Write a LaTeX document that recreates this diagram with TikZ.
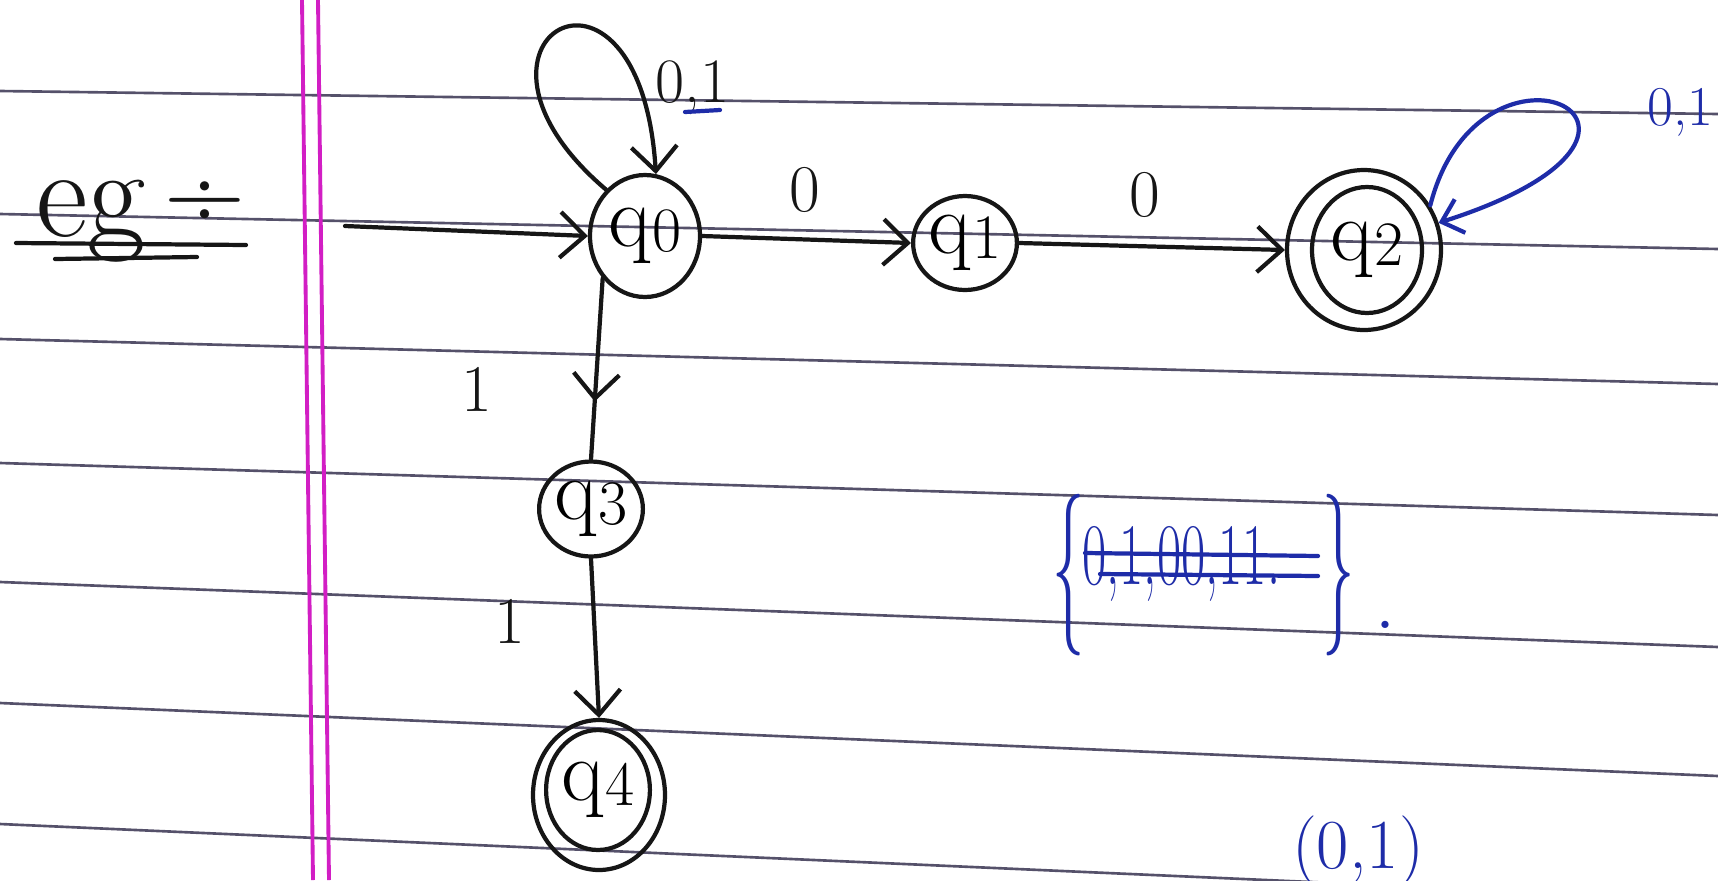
\documentclass[tikz,border=0pt]{standalone}
\usepackage{fontspec}
\usepackage{graphicx}
\usetikzlibrary{arrows.meta,decorations.markings,shapes.geometric}

\definecolor{inkblack}{HTML}{161616}
\definecolor{inkblue}{HTML}{1E2CA8}
\definecolor{ruleline}{HTML}{55516A}
\definecolor{marginpink}{HTML}{D21EC4}

% state name: a q with its index set a little smaller
\newcommand\stname[1]{q\kern0.02em\raisebox{-0.06em}{\fontsize{36}{38}\selectfont #1}}

\tikzset{
  ink/.style={draw=inkblack, line width=2.4pt, line cap=round, line join=round},
  state/.style={ellipse, ink, inner sep=0pt, font=\fontsize{50}{52}\selectfont},
  tip/.style={-{Straight Barb[length=14pt,width=26pt]}},
  midtip/.style={postaction={decorate}, decoration={markings,
      mark=at position #1 with {\arrow{Straight Barb[length=14pt,width=26pt]}}}},
  lbl/.style={font=\fontsize{38}{40}\selectfont, text=inkblack, inner sep=0pt},
  bluelbl/.style={font=\fontsize{32}{34}\selectfont, text=inkblue, inner sep=0pt},
  settext/.style={font=\fontsize{50}{52}\selectfont, text=inkblue, inner sep=0pt},
  bluepen/.style={draw=inkblue, line width=2.4pt, line cap=round, line join=round},
  ruled/.style={draw=ruleline, line width=1.5pt},
  marginline/.style={draw=marginpink, line width=2.2pt},
}

\begin{document}
\begin{tikzpicture}[x=0.02cm, y=-0.02cm]
\useasboundingbox (0,0) rectangle (1718,880);
\clip (0,0) rectangle (1718,880);
\fill[white] (0,0) rectangle (1718,880);

% ruled notebook lines
\foreach \a/\b in {91/114, 214/249, 339/384, 463/515, 582/647, 703/776, 824/900}
  \draw[ruled] (0,\a) -- (1718,\b);

% double margin line
\draw[marginline] (302,0) -- (313,880);
\draw[marginline] (318,0) -- (329,880);

% heading
\node[font=\fontsize{72}{74}\selectfont, text=inkblack, anchor=base west, inner sep=0pt]
  (eg) at (36,236) {eg};
\node[font=\fontsize{64}{66}\selectfont, text=inkblack, inner sep=0pt]
  (egsign) at (205,205) {÷};
\draw[ink] (16,243) -- (246,245);
\draw[ink] (55,259) -- (197,257);

% states
\node[state, minimum width=2.2cm, minimum height=2.44cm] (q0) at (645,236) {\stname{0}};
\node[state, minimum width=1.68cm, minimum height=1.88cm] (q1) at (965,243) {\stname{1}};
\node[state, minimum width=3.08cm, minimum height=3.2cm] (q2) at (1364,250) {};
\node[state, minimum width=2.2cm, minimum height=2.52cm] (q2i) at (1367,250) {\stname{2}};
\node[state, minimum width=1.64cm, minimum height=1.9cm] (q3) at (591,509) {\stname{3}};
\node[state, minimum width=2.64cm, minimum height=3.0cm] (q4) at (599,795) {};
\node[state, minimum width=1.92cm, minimum height=2.4cm] (q4i) at (598,790) {\stname{4}};

% start arrow
\coordinate (start) at (345,226);
\draw[ink, tip] (start) -- (q0.west);

% transitions
\draw[ink, tip] (q0.east) -- (q1.west);
\draw[ink, tip] (q1.east) -- (q2.west);
\draw[ink, midtip=0.68] (q0.225) -- (q3.north);
\draw[ink, tip] (q3.south) -- (q4.north);

% self loops
\draw[ink, tip] (q0.130) .. controls (430,40) and (640,-80) .. (q0.80);
\draw[bluepen, -{Straight Barb[length=11pt,width=20pt]}]
  (q2.34) .. controls (1480,10) and (1730,130) .. (q2.20);

% transition labels
\node[lbl] (a01) at (805,190) {0};
\node[lbl] (a12) at (1145,195) {0};
\node[lbl] (a03) at (477,389) {1};
\node[lbl] (a34) at (510,621) {1};
\node[lbl, font=\fontsize{36}{38}\selectfont, anchor=west] (a00) at (655,88) {0,1};
\draw[bluepen] (685,112) -- (720,110);
\node[bluelbl, anchor=east] (a22) at (1714,112) {0,1};

% language set, struck through
\node[settext, anchor=west] (lbrace) at (1052,575)
  {\scalebox{0.4}[1]{\fontsize{92}{94}\selectfont\{}};
\node[settext, anchor=base west] (setbody) at (1082,584)
  {\scalebox{0.6}[1]{0,1,00,11.}};
\node[settext, anchor=west] (rbrace) at (1322,575)
  {\scalebox{0.4}[1]{\fontsize{92}{94}\selectfont\}}};
\node[settext, anchor=base] (setdot) at (1385,628) {.};
\draw[bluepen] (1085,553) -- (1318,556);
\draw[bluepen] (1100,574) -- (1318,576);

% pair below
\node[settext, font=\fontsize{40}{42}\selectfont, anchor=base] (pair) at (1358,868) {(0,1)};
\end{tikzpicture}
\end{document}
